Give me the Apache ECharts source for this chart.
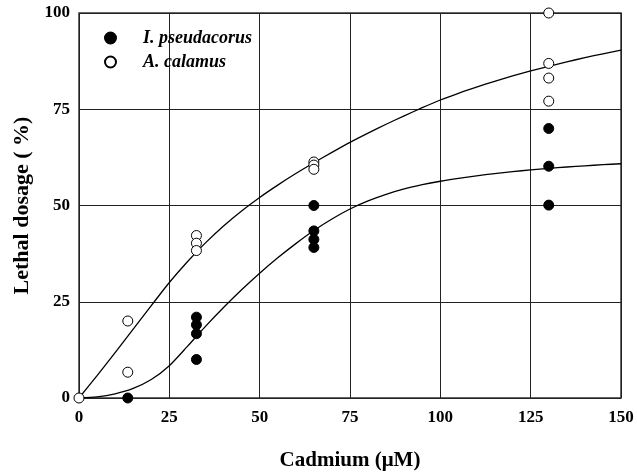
<!DOCTYPE html>
<html>
<head>
<meta charset="utf-8">
<script src="https://cdn.jsdelivr.net/npm/echarts@6/dist/echarts.min.js"></script>
<style>
html,body{margin:0;padding:0;background:#fff;}
#chart{width:637px;height:476px;}
</style>
</head>
<body>
<div id="chart"></div>
<script>
// I. pseudacorus (filled) observations [Cadmium µM, lethal %]
var pseudX = [13.5, 32.5, 32.5, 32.5, 32.5, 65, 65, 65, 65, 130, 130, 130];
var pseudY = [0, 21, 19, 16.7, 10, 50, 43.4, 41.2, 39.1, 70, 60.2, 50.1];
// A. calamus (open) observations
var calamX = [0, 13.5, 13.5, 32.5, 32.5, 32.5, 65, 65, 65, 130, 130, 130, 130];
var calamY = [0, 20, 6.7, 42.2, 40.2, 38.3, 61.3, 60.5, 59.4, 100, 86.9, 83.1, 77.1];
// fitted curves
var curveX = [0, 5, 10, 15, 20, 25, 30, 35, 40, 45, 50, 55, 60, 65, 70, 75, 80, 85, 90, 95, 100,
              105, 110, 115, 120, 125, 130, 135, 140, 145, 150];
var calamCurve = [0, 5.8, 11.8, 17.9, 24.0, 30.0, 35.4, 40.3, 44.7, 48.6, 52.1, 55.3, 58.3, 61.1, 63.8, 66.4,
                  68.8, 71.1, 73.3, 75.4, 77.4, 79.15, 80.75, 82.25, 83.65, 84.95, 86.15, 87.3, 88.4, 89.4, 90.35];
var pseudCurve = [0, 0.3, 1.1, 2.5, 4.8, 8.4, 13.4, 18.6, 23.5, 28.1, 32.4, 36.4, 40.1, 43.5, 46.5, 49.1,
                  51.2, 52.9, 54.3, 55.4, 56.3, 57.05, 57.7, 58.3, 58.8, 59.25, 59.65, 60.0, 60.3, 60.6, 60.85];
var xTicks = [0, 25, 50, 75, 100, 125, 150];
var yTicks = [0, 25, 50, 75, 100];

function zip(a, b) { return a.map(function (v, i) { return [v, b[i]]; }); }

var chart = echarts.init(document.getElementById('chart'), null, {renderer: 'canvas'});
var serif = '"Liberation Serif", "Times New Roman", serif';
chart.setOption({
  animation: false,
  backgroundColor: '#fff',
  grid: {left: 79, right: 16, top: 13, bottom: 73.5, show: true, borderColor: '#333', borderWidth: 1.5},
  legend: {
    data: ['I. pseudacorus', 'A. calamus'],
    orient: 'vertical', left: 99, top: 24,
    itemWidth: 11, itemHeight: 11, itemGap: 6,
    icon: 'circle',
    textStyle: {fontFamily: serif, fontStyle: 'italic', fontWeight: 'bold', fontSize: 18, color: '#000', padding: [0, 0, 0, 22]}
  },
  xAxis: {
    type: 'value', min: 0, max: 150, interval: 25,
    name: 'Cadmium (\u03bcM)', nameLocation: 'middle', nameGap: 52,
    nameTextStyle: {fontFamily: serif, fontWeight: 'bold', fontSize: 21, color: '#000'},
    axisLine: {show: false}, axisTick: {show: false},
    axisLabel: {fontFamily: serif, fontWeight: 'bold', fontSize: 17, color: '#000', margin: 11,
      formatter: function (v) { return xTicks.indexOf(v) >= 0 ? String(v) : ''; }},
    splitLine: {show: true, lineStyle: {color: '#222', width: 1}}
  },
  yAxis: {
    type: 'value', min: 0, max: 100, interval: 25,
    name: 'Lethal dosage ( %)', nameLocation: 'middle', nameGap: 37,
    nameTextStyle: {fontFamily: serif, fontWeight: 'bold', fontSize: 22, color: '#000'},
    axisLine: {show: false}, axisTick: {show: false},
    axisLabel: {fontFamily: serif, fontWeight: 'bold', fontSize: 17, color: '#000', margin: 9,
      formatter: function (v) { return yTicks.indexOf(v) >= 0 ? String(v) : ''; }},
    splitLine: {show: true, lineStyle: {color: '#222', width: 1}}
  },
  series: [
    {name: 'calamCurve', type: 'line', data: zip(curveX, calamCurve), smooth: 0.25, showSymbol: false,
      lineStyle: {color: '#000', width: 1.3}, z: 2},
    {name: 'pseudCurve', type: 'line', data: zip(curveX, pseudCurve), smooth: 0.25, showSymbol: false,
      lineStyle: {color: '#000', width: 1.3}, z: 2},
    {name: 'I. pseudacorus', type: 'scatter', data: zip(pseudX, pseudY), symbol: 'circle', symbolSize: 10,
      itemStyle: {color: '#000', borderColor: '#000', borderWidth: 1, opacity: 1}, z: 3},
    {name: 'A. calamus', type: 'scatter', data: zip(calamX, calamY), symbol: 'circle', symbolSize: 10,
      itemStyle: {color: '#fff', borderColor: '#000', borderWidth: 1, opacity: 1}, z: 4}
  ]
});
</script>
</body>
</html>
